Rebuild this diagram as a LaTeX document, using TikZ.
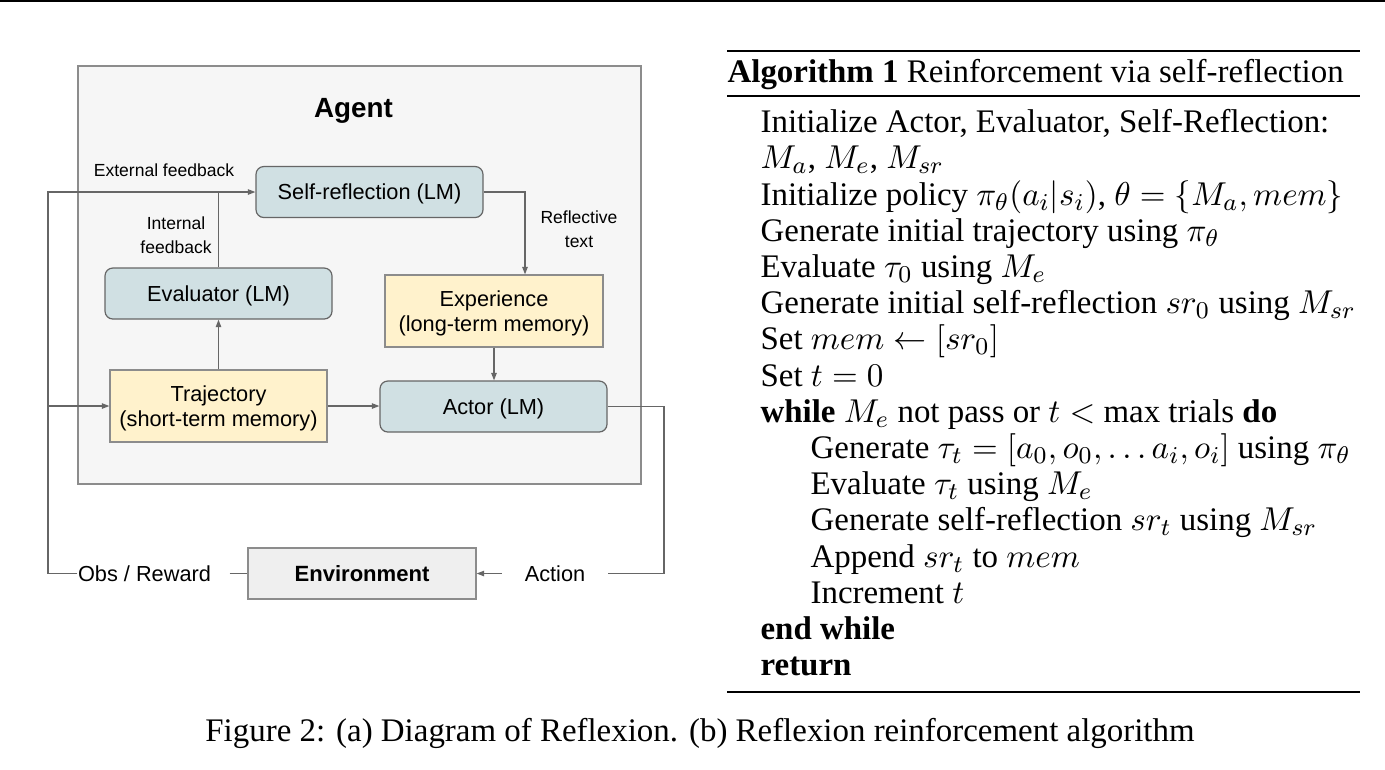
\documentclass[tikz,border=0pt]{standalone}
\usepackage{amsmath, amssymb}
\usepackage{fontspec}
\setmainfont{Liberation Serif}
\newfontfamily\diagfont{Liberation Sans}
\usepackage{xcolor}
\usepackage{tikz}
\usetikzlibrary{calc, arrows.meta, positioning}
\definecolor{lmfill}{HTML}{D0E0E3}
\definecolor{memfill}{HTML}{FFF2CC}
\definecolor{envfill}{HTML}{EFEFEF}
\definecolor{agentfill}{HTML}{F6F6F6}
\definecolor{edgegray}{HTML}{666666}
\definecolor{boxgray}{HTML}{8C8C8C}
\newcommand{\pix}{0.3311pt}
\tikzset{
    lmnode/.style = {draw=edgegray, fill=lmfill, rectangle, rounded corners=2.6pt, line width=0.4pt,
      minimum width=227*\pix, minimum height=51*\pix, inner sep=0em, align=center, text depth=0pt,
      font=\diagfont\fontsize{7.2}{8.4}\selectfont},
    memnode/.style = {draw=boxgray, fill=memfill, rectangle, line width=0.4pt,
      minimum height=72*\pix, inner sep=0em, align=center, text depth=0pt,
      font=\diagfont\fontsize{7.2}{8.4}\selectfont},
    envnode/.style = {draw=boxgray, fill=envfill, rectangle, line width=0.4pt,
      minimum width=228*\pix, minimum height=51*\pix, inner sep=0em, text depth=0pt,
      font=\diagfont\fontsize{7.3}{8.4}\selectfont\bfseries},
    agentnode/.style = {draw=boxgray, fill=agentfill, rectangle, line width=0.4pt,
      minimum width=563*\pix, minimum height=418*\pix, inner sep=0em},
    titlenode/.style = {draw=none, inner sep=0em, anchor=base, font=\diagfont\fontsize{9.2}{11}\selectfont\bfseries},
    textnode/.style = {draw=none, fill=none, rectangle, inner sep=0em,
      font=\diagfont\fontsize{7.2}{8.4}\selectfont},
    smalltextnode/.style = {draw=none, fill=none, rectangle, inner sep=0em, align=center,
      font=\diagfont\fontsize{5.8}{7.9}\selectfont},
    algline/.style = {anchor=base west, inner sep=0em, font=\fontsize{10.9}{12}\selectfont},
    line/.style = {draw=edgegray, line width=0.42pt},
    connect/.style = {line, -{Triangle[length=2.5pt, width=1.8pt]}}
}

\begin{document}
\begin{tikzpicture}[x=\pix, y=-\pix]
    \useasboundingbox (0,0) rectangle (1385,769);
    \draw [black, line width=0.5pt] (0,1) -- (1385,1);

    % (a) diagram
    \node [name=agent, agentnode] at (359.5,275) {};
    \node [name=agenttitle, titlenode] at (353.5,117.7) {Agent};

    \node [name=selfref, lmnode] at (369.5,192) {Self-reflection (LM)};
    \node [name=evaluator, lmnode] at (218.5,293.5) {Evaluator (LM)};
    \node [name=experience, memnode, minimum width=218*\pix] at (494,311) {Experience\\(long-term memory)};
    \node [name=trajectory, memnode, minimum width=217*\pix] at (218.5,406) {Trajectory\\(short-term memory)};
    \node [name=actor, lmnode] at (493.5,406.5) {Actor (LM)};
    \node [name=environment, envnode] at (362,573.5) {Environment};

    \node [name=extfb, smalltextnode] at (164,170) {External feedback};
    \node [name=intfb, smalltextnode] at (176,235) {Internal\\feedback};
    \node [name=refltext, smalltextnode] at (579,229) {Reflective\\text};
    \node [name=obsrew, textnode] at (144.5,573.5) {Obs / Reward};
    \node [name=action, textnode, inner xsep=7.4pt] at (555,573.5) {Action};

    \coordinate (feedturn) at (48,192);
    \coordinate (obsturn) at (48,573.5);
    \coordinate (reflturn) at (525,192);
    \coordinate (actturn) at (664,406.5);

    \draw [connect] (obsrew.west) -- (obsturn) -- (feedturn) -- (selfref.west);
    \draw [line] (evaluator.north) -- (evaluator.north |- selfref.west);
    \draw [connect] (obsturn |- trajectory.west) -- (trajectory.west);
    \draw [connect] (trajectory.north) -- (evaluator.south);
    \draw [connect] (selfref.east) -- (reflturn) -- (reflturn |- experience.north);
    \draw [connect] (experience.south) -- (experience.south |- actor.north);
    \draw [connect] (trajectory.east) -- (trajectory.east -| actor.west);
    \draw [line] (actor.east) -- (actturn) -- (actturn |- action.east) -- (action.east);
    \draw [connect] (action.west) -- (action.west -| environment.east);
    \draw [line, shorten <=6pt] (obsrew.east) -- (obsrew.east -| environment.west);

    % (b) algorithm
    \draw [black, line width=0.8pt] (727,51) -- (1360,51);
    \draw [black, line width=0.5pt] (727,96) -- (1360,96);
    \draw [black, line width=0.5pt] (727,692) -- (1360,692);
    \node [name=algtitle, algline] at (727,82) {\textbf{Algorithm 1} Reinforcement via self-reflection};
    \node [name=alg1, algline] at (760,132.7) {Initialize Actor, Evaluator, Self-Reflection:};
    \node [name=alg2, algline] at (760,168.9) {$M_a$, $M_e$, $M_{sr}$};
    \node [name=alg3, algline] at (760,205.1) {Initialize policy $\pi_\theta(a_i|s_i)$, $\theta=\{M_a, mem\}$};
    \node [name=alg4, algline] at (760,241.3) {Generate initial trajectory using $\pi_\theta$};
    \node [name=alg5, algline] at (760,277.5) {Evaluate $\tau_0$ using $M_e$};
    \node [name=alg6, algline] at (760,313.7) {Generate initial self-reflection $sr_0$ using $M_{sr}$};
    \node [name=alg7, algline] at (760,349.9) {Set $mem \leftarrow [sr_0]$};
    \node [name=alg8, algline] at (760,386.1) {Set $t=0$};
    \node [name=alg9, algline] at (760,422.3) {\textbf{while} $M_e$ not pass or $t <$ max trials \textbf{do}};
    \node [name=alg10, algline] at (810,458.5) {Generate $\tau_t=[a_0,o_0,\dots a_i,o_i]$ using $\pi_\theta$};
    \node [name=alg11, algline] at (810,494.7) {Evaluate $\tau_t$ using $M_e$};
    \node [name=alg12, algline] at (810,530.9) {Generate self-reflection $sr_t$ using $M_{sr}$};
    \node [name=alg13, algline] at (810,567.1) {Append $sr_t$ to $mem$};
    \node [name=alg14, algline] at (810,603.3) {Increment $t$};
    \node [name=alg15, algline] at (760,639.5) {\textbf{end while}};
    \node [name=alg16, algline] at (760,675.7) {\textbf{return}};

    \node [name=caption, anchor=base, inner sep=0em, font=\fontsize{10.9}{12}\selectfont] at (700,741.7)
        {Figure 2: (a) Diagram of Reflexion. (b) Reflexion reinforcement algorithm};
\end{tikzpicture}
\end{document}
